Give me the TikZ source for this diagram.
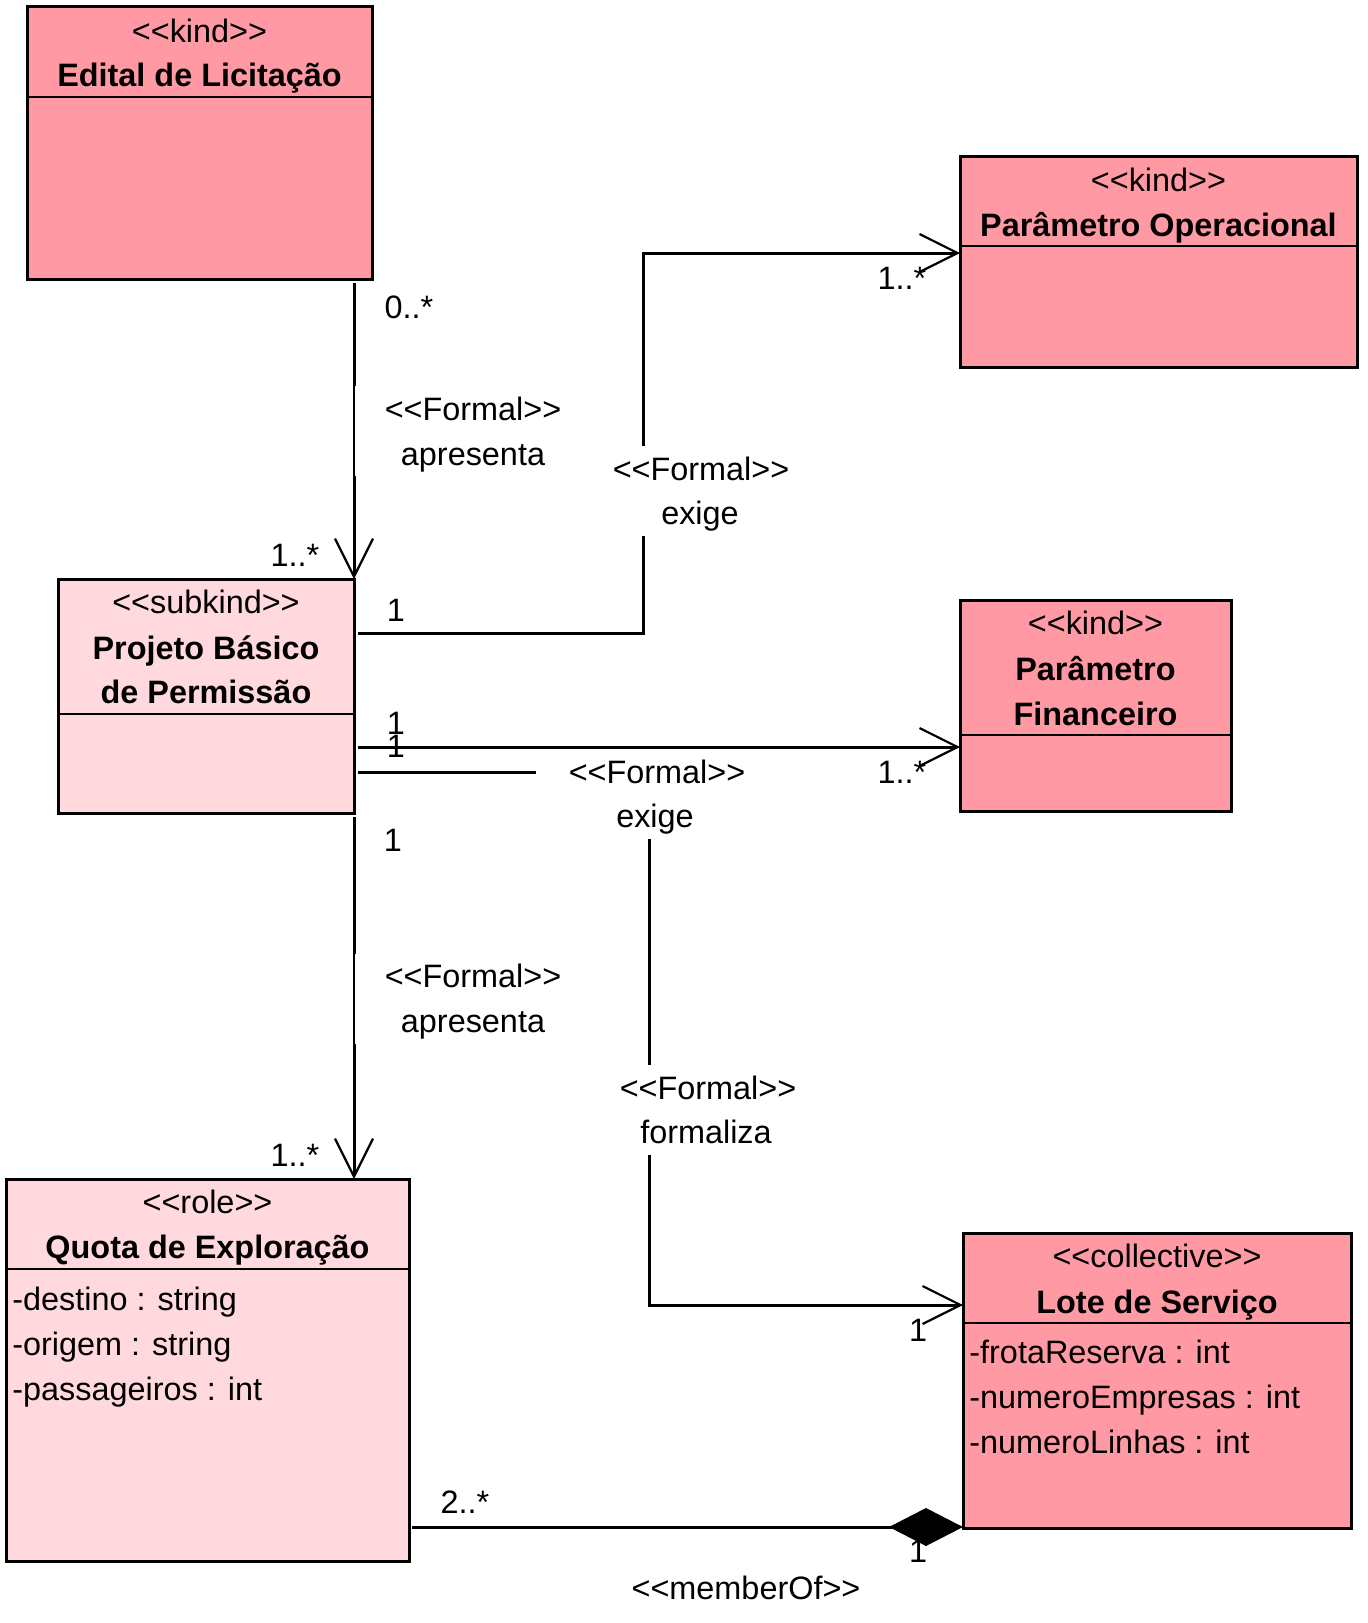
\documentclass[tikz,border=0pt]{standalone}
\usepackage{fontspec}
\setmainfont{Liberation Sans}[Ligatures=TeXOff]
\usetikzlibrary{arrows.meta,fit}
\definecolor{kindc}{RGB}{255,153,163}
\definecolor{subc}{RGB}{255,217,222}
\newcommand{\umlfs}{\fontsize{16.2pt}{22.5pt}\selectfont}
\begin{document}
\begin{tikzpicture}[x=0.5pt,y=-0.5pt,
  box/.style={draw=black, line width=1.5pt, inner sep=0pt, outer sep=0pt},
  kindbox/.style={box, fill=kindc},
  subbox/.style={box, fill=subc},
  sepline/.style={line width=1.3pt},
  txt/.style={inner sep=0pt, anchor=base, font=\umlfs},
  btxt/.style={inner sep=0pt, anchor=base, font=\umlfs\bfseries},
  attr/.style={inner sep=0pt, anchor=base west, font=\umlfs},
  conn/.style={line width=1.5pt},
  openarrow/.style={-{Straight Barb[length=19pt,width=19pt,line width=1.1pt]}},
  lblbox/.style={fill=white, minimum width=120pt, minimum height=45pt, inner sep=0pt}
]
\useasboundingbox (0,0) rectangle (1368,1623);

% ---- classes ----
\node[kindbox, fit={(27,6)(372,279)}] (edital) {};
\draw[sepline] (27,97) -- (372,97);
\node[txt]  (editalst) at (199.5,42) {<<kind>>};
\node[btxt] (editalnm) at (199.5,86) {Edital de Licitação};

\node[kindbox, fit={(960,156)(1357,367)}] (parop) {};
\draw[sepline] (960,246) -- (1357,246);
\node[txt]  (paropst) at (1158.5,191) {<<kind>>};
\node[btxt] (paropnm) at (1158.5,236) {Parâmetro Operacional};

\node[kindbox, fit={(960,600)(1231,811)}] (parfin) {};
\draw[sepline] (960,735) -- (1231,735);
\node[txt]  (parfinst) at (1095.5,634) {<<kind>>};
\node[btxt] (parfinnm1) at (1095.5,680) {Parâmetro};
\node[btxt] (parfinnm2) at (1095.5,725) {Financeiro};

\node[subbox, fit={(58,579)(354,813)}] (projeto) {};
\draw[sepline] (58,714) -- (354,714);
\node[txt]  (projetost) at (206,613) {<<subkind>>};
\node[btxt] (projetonm1) at (206,659) {Projeto Básico};
\node[btxt] (projetonm2) at (206,703) {de Permissão};

\node[subbox, fit={(6,1179)(409,1561)}] (quota) {};
\draw[sepline] (6,1269) -- (409,1269);
\node[txt]  (quotast) at (207.5,1213) {<<role>>};
\node[btxt] (quotanm) at (207.5,1258) {Quota de Exploração};
\node[attr] (qa1) at (12,1310) {-destino : string};
\node[attr] (qa2) at (12,1355) {-origem : string};
\node[attr] (qa3) at (12,1400) {-passageiros : int};

\node[kindbox, fit={(963,1233)(1351,1528)}] (lote) {};
\draw[sepline] (963,1323) -- (1351,1323);
\node[txt]  (lotest) at (1157,1267) {<<collective>>};
\node[btxt] (lotenm) at (1157,1313) {Lote de Serviço};
\node[attr] (la1) at (969,1363) {-frotaReserva : int};
\node[attr] (la2) at (969,1408) {-numeroEmpresas : int};
\node[attr] (la3) at (969,1453) {-numeroLinhas : int};

% ---- multiplicities ----
\node[txt] (m1) at (409,318) {0..*};
\node[txt] (m2) at (295,566) {1..*};
\node[txt] (m3) at (396,621) {1};
\node[txt] (m4) at (396,734) {1};
\node[txt] (m5) at (396,757) {1};
\node[txt] (m6) at (393,851) {1};
\node[txt] (m7) at (902,289) {1..*};
\node[txt] (m8) at (902,783) {1..*};
\node[txt] (m9) at (918,1341) {1};
\node[txt] (m10) at (918,1562) {1};
\node[txt] (m11) at (465,1513) {2..*};
\node[txt] (m12) at (295,1166) {1..*};

% ---- connectors ----
\coordinate (c1) at (643,633);
\coordinate (c2) at (643,253);
\coordinate (c3) at (700,747);
\coordinate (c4) at (649,772);
\coordinate (c5) at (649,1305);
\coordinate (c6) at (700,1527);

\draw[conn, openarrow, shorten <=2pt] (projeto.north east |- edital.south) -- (projeto.north east);
\draw[conn, openarrow, shorten <=2pt] (projeto.east |- c1) -- (c1) -- (c2) -- (parop.west |- c2);
\draw[conn, openarrow, shorten <=2pt] (projeto.east |- c3) -- (parfin.west |- c3);
\draw[conn, openarrow, shorten <=2pt] (projeto.east |- c4) -- (c4) -- (c5) -- (lote.west |- c5);
\draw[conn, openarrow, shorten <=2pt] (projeto.south east) -- (quota.north -| projeto.east);
\draw[conn, -{Diamond[length=37pt,width=19pt]}, shorten <=1.5pt] (quota.east |- c6) -- (lote.west |- c6);

% ---- association labels ----
\node[lblbox] (l1) at (474.5,431) {};
\node[txt] at (473,420) {<<Formal>>};
\node[txt] at (473,465) {apresenta};

\node[lblbox] (l2) at (701,491) {};
\node[txt] at (701,480) {<<Formal>>};
\node[txt] at (700,524) {exige};

\node[lblbox] (l3) at (656,794) {};
\node[txt] at (657,783) {<<Formal>>};
\node[txt] at (655,827) {exige};

\node[lblbox] (l4) at (708,1110) {};
\node[txt] at (708,1099) {<<Formal>>};
\node[txt] at (706,1143) {formaliza};

\node[lblbox] (l5) at (474.5,998.5) {};
\node[txt] at (473,987) {<<Formal>>};
\node[txt] at (473,1032) {apresenta};

\node[txt] (member) at (746,1599) {<<memberOf>>};
\end{tikzpicture}
\end{document}
